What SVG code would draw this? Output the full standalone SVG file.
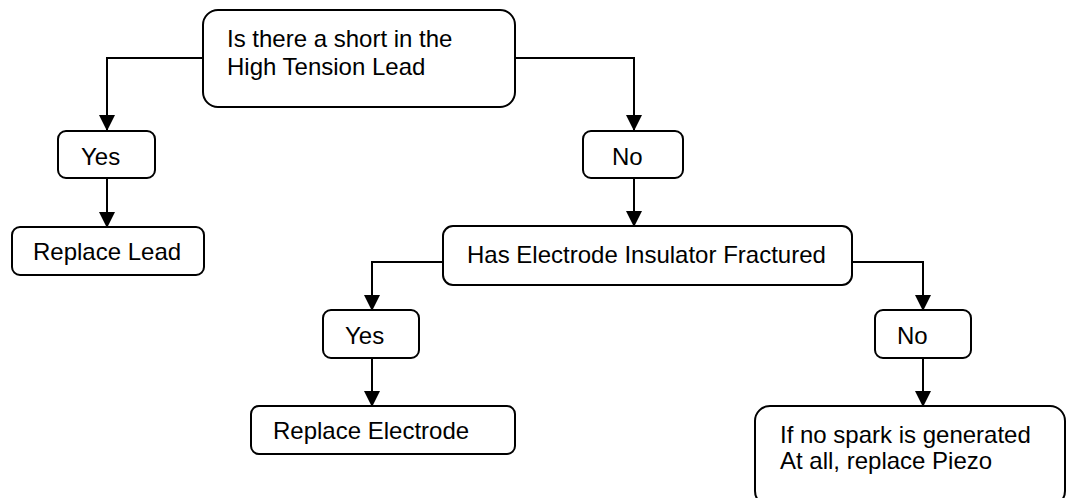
<svg xmlns="http://www.w3.org/2000/svg" width="1066" height="498" viewBox="0 0 1066 498">
<style>
.box{fill:#fff;stroke:#000;stroke-width:2}
.t{font-family:"Liberation Sans",Arial,sans-serif;font-size:24px;fill:#000}
.c{fill:none;stroke:#000;stroke-width:2}
</style>
<defs>
<marker id="ah" markerWidth="16" markerHeight="16" refX="15" refY="8" orient="auto" markerUnits="userSpaceOnUse" viewBox="0 0 16 16">
<path d="M0,0 L16,8 L0,16 Z" fill="#000"/>
</marker>
</defs>
<rect width="1066" height="498" fill="#fff"/>
<g id="connectors">
<path class="c" d="M203,58 H107 V130" marker-end="url(#ah)"/>
<path class="c" d="M515,58 H634 V130" marker-end="url(#ah)"/>
<path class="c" d="M107,178 V227" marker-end="url(#ah)"/>
<path class="c" d="M634,178 V226" marker-end="url(#ah)"/>
<path class="c" d="M443,262 H372 V310" marker-end="url(#ah)"/>
<path class="c" d="M852,262 H923 V310" marker-end="url(#ah)"/>
<path class="c" d="M372,358 V406" marker-end="url(#ah)"/>
<path class="c" d="M923,358 V406" marker-end="url(#ah)"/>
</g>
<g id="q1">
<rect class="box" x="203" y="10" width="312" height="97" rx="15"/>
<text class="t" x="227" y="47">Is there a short in the</text>
<text class="t" x="227" y="75">High Tension Lead</text>
</g>
<g id="yes1">
<rect class="box" x="58" y="131" width="97" height="47" rx="8"/>
<text class="t" x="81" y="165">Yes</text>
</g>
<g id="no1">
<rect class="box" x="583" y="131" width="100" height="47" rx="8"/>
<text class="t" x="612" y="165">No</text>
</g>
<g id="replaceLead">
<rect class="box" x="12" y="227" width="192" height="48" rx="8"/>
<text class="t" x="33" y="260">Replace Lead</text>
</g>
<g id="q2">
<rect class="box" x="443" y="226" width="409" height="59" rx="10"/>
<text class="t" x="467" y="263">Has Electrode Insulator Fractured</text>
</g>
<g id="yes2">
<rect class="box" x="323" y="310" width="96" height="48" rx="8"/>
<text class="t" x="345" y="344">Yes</text>
</g>
<g id="no2">
<rect class="box" x="875" y="310" width="96" height="48" rx="8"/>
<text class="t" x="897" y="344">No</text>
</g>
<g id="replaceElectrode">
<rect class="box" x="251" y="406" width="264" height="48" rx="8"/>
<text class="t" x="273" y="439">Replace Electrode</text>
</g>
<g id="piezo">
<rect class="box" x="755" y="406" width="310" height="100" rx="15"/>
<text class="t" x="780" y="443">If no spark is generated</text>
<text class="t" x="780" y="469">At all, replace Piezo</text>
</g>
</svg>
